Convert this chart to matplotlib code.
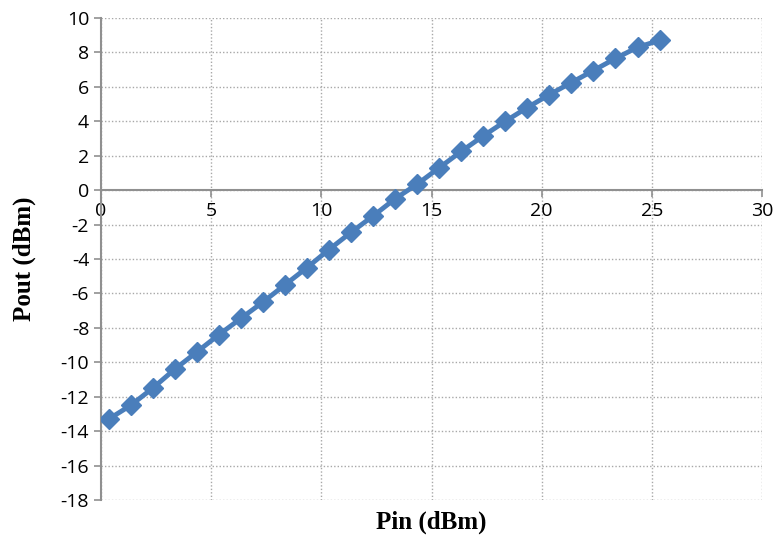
import numpy as np
import matplotlib.pyplot as plt

plt.rcParams['axes.unicode_minus'] = False

pin = [0.35, 1.35, 2.35, 3.35, 4.35, 5.35, 6.35, 7.35, 8.35, 9.35, 10.35, 11.35, 12.35,
       13.35, 14.35, 15.35, 16.35, 17.35, 18.35, 19.35, 20.35, 21.35, 22.35, 23.35, 24.35, 25.35]
pout = [-13.3, -12.5, -11.5, -10.4, -9.4, -8.4, -7.45, -6.5, -5.5, -4.5, -3.45, -2.45, -1.5,
        -0.5, 0.35, 1.3, 2.25, 3.15, 4.0, 4.8, 5.55, 6.25, 6.95, 7.65, 8.3, 8.7]

fig = plt.figure(figsize=(7.77, 5.37), dpi=100)
ax = fig.add_axes([101/777, 1-500/537, 661/777, 482/537])

ax.plot(pin, pout, color='#4a7ebb', lw=3.5, marker='D', ms=10, mfc='#4a7ebb', mec='#4a7ebb', zorder=3)

ax.set_xlim(0, 30)
ax.set_ylim(-18, 10)
ax.set_xticks(range(0, 31, 5))
ax.set_yticks(range(-18, 11, 2))
ax.grid(True, ls=(0, (1, 1.5)), color='#a8a8a8', lw=1.0)

for s in ['top', 'right']:
    ax.spines[s].set_visible(False)
ax.spines['bottom'].set_position(('data', 0))
ax.spines['bottom'].set_color('#909090')
ax.spines['left'].set_color('#909090')
ax.spines['bottom'].set_linewidth(1.5)
ax.spines['left'].set_linewidth(1.5)
ax.tick_params(axis='both', colors='#909090', labelcolor='black', labelsize=14, length=5, width=1.2)
for lab in ax.get_xticklabels() + ax.get_yticklabels():
    lab.set_family('Open Sans')

ax.set_xlabel('Pin (dBm)', family='Liberation Serif', fontweight='bold', fontsize=18)
ax.set_ylabel('Pout (dBm)', family='Liberation Serif', fontweight='bold', fontsize=18)
ax.xaxis.set_label_coords(0.5, -0.022)
ax.yaxis.set_label_coords(-0.098, 0.5)

fig.savefig('out.png', dpi=100)
